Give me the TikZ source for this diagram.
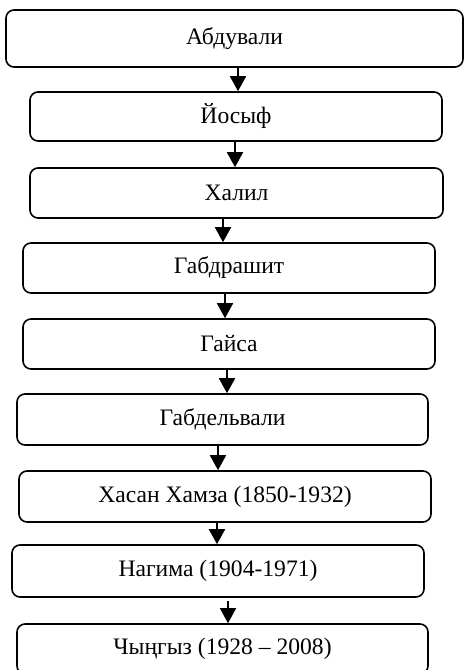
\documentclass[tikz,border=0pt]{standalone}
\usepackage{fontspec}
\setmainfont{Liberation Serif}
\usetikzlibrary{arrows.meta}

\tikzset{
  box/.style={draw, rounded corners=8pt, line width=1.6pt, inner sep=0pt, anchor=center},
  arr/.style={line width=1.8pt, -{Triangle[width=16pt,length=15pt]}}
}

\begin{document}
\begin{tikzpicture}[x=1pt,y=-1pt, every node/.style={font=\fontsize{23.6}{26}\selectfont}]
\useasboundingbox (0,0) rectangle (465,670);

\node[box, minimum width=457pt, minimum height=57pt] (abduvali) at (234.5,38.5) {Абдували};
\node[box, minimum width=412pt, minimum height=49pt] (yosyf) at (236,116.5) {Йосыф};
\node[box, minimum width=413pt, minimum height=50pt] (xalil) at (236.5,193) {Халил};
\node[box, minimum width=412pt, minimum height=50pt] (gabdrashit) at (229,268) {Габдрашит};
\node[box, minimum width=412pt, minimum height=50pt] (gaysa) at (229,344) {Гайса};
\node[box, minimum width=411pt, minimum height=51pt] (gabdelvali) at (222.5,419.5) {Габдельвали};
\node[box, minimum width=412pt, minimum height=51pt] (xasan) at (225,496.5) {Хасан Хамза (1850-1932)};
\node[box, minimum width=412pt, minimum height=52pt] (nagima) at (218,571) {Нагима (1904-1971)};
\node[box, minimum width=411pt, minimum height=50pt] (chyngyz) at (222.5,649) {Чыңгыз (1928 – 2008)};

% arrows between generations
\draw[arr] (abduvali.south -| 238,0) -- (yosyf.north -| 238,0);
\draw[arr] (yosyf.south -| 235,0) -- (xalil.north -| 235,0);
\draw[arr] (xalil.south -| 223,0) -- (gabdrashit.north -| 223,0);
\draw[arr] (gabdrashit.south -| 225,0) -- (gaysa.north -| 225,0);
\draw[arr] (gaysa.south -| 227,0) -- (gabdelvali.north -| 227,0);
\draw[arr] (gabdelvali.south -| 218,0) -- (xasan.north -| 218,0);
\draw[arr] (xasan.south -| 217,0) -- (nagima.north -| 217,0);
\draw[arr] ([yshift=-3pt]nagima.south -| 228,0) -- (chyngyz.north -| 228,0);
\end{tikzpicture}
\end{document}
